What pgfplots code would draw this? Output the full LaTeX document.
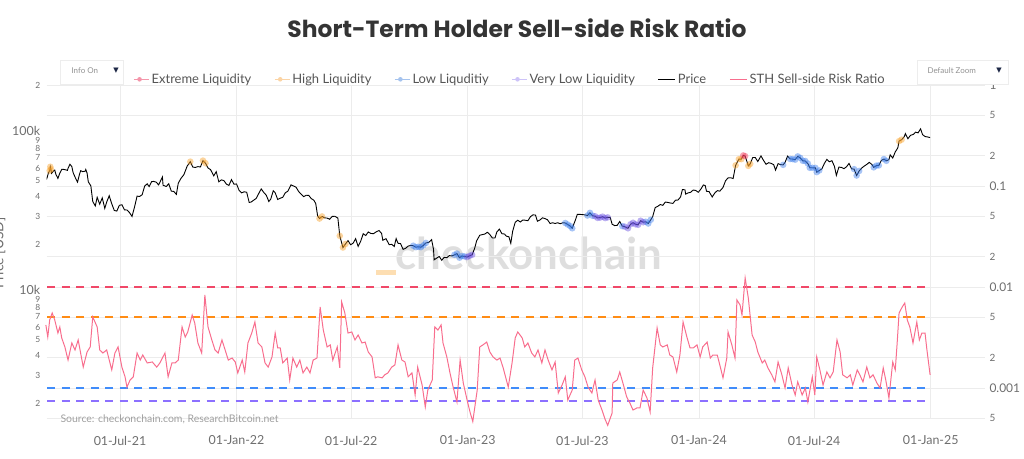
\documentclass[border=0pt]{standalone}
\usepackage{fontspec}
\setmainfont{Lato}
\newfontfamily\titlefont{Poppins}
\newfontfamily\symfont{DejaVu Sans}
\usepackage{pgfplots}
\pgfplotsset{compat=1.18}

\definecolor{pinkline}{RGB}{248,110,142}
\definecolor{reddash}{RGB}{240,72,104}
\definecolor{orangedash}{RGB}{255,140,20}
\definecolor{bluedash}{RGB}{64,140,250}
\definecolor{purpledash}{RGB}{140,112,255}
\definecolor{gridgray}{RGB}{236,236,236}
\definecolor{tickgray}{RGB}{110,110,110}
\definecolor{titlegray}{RGB}{52,52,52}
\definecolor{legtext}{RGB}{85,85,85}
\definecolor{wm}{RGB}{222,222,222}
\definecolor{peach}{RGB}{253,222,178}
\definecolor{navy}{RGB}{30,40,70}
\definecolor{glowred}{RGB}{240,60,90}
\definecolor{gloworange}{RGB}{247,160,40}
\definecolor{glowblue}{RGB}{60,125,235}
\definecolor{glowpurple}{RGB}{105,80,225}
\definecolor{legred}{RGB}{244,150,170}
\definecolor{legorange}{RGB}{251,212,165}
\definecolor{legblue}{RGB}{165,195,238}
\definecolor{legpurple}{RGB}{205,195,248}

\pgfplotstableread{
day price
65 50900
66 52300
68 56000
70 57800
71 61200
72 59000
73 55600
76 57600
78 58300
80 54500
82 52800
83 51700
86 55800
89 58900
91 59000
94 58700
98 58100
99 59800
102 63500
105 61300
107 56200
111 51700
114 49000
117 54800
119 57800
122 57000
126 57400
127 58800
129 55900
131 49200
135 46400
138 37000
142 34700
145 39300
149 35600
153 39000
157 33500
160 36700
164 40200
168 35800
172 32500
176 32200
180 35000
184 35300
188 32800
192 32700
196 31500
200 29800
204 34200
208 40000
212 39800
216 40800
220 46300
224 47800
227 45900
231 49300
234 49500
238 49000
242 47100
248 52700
249 46800
254 46000
258 47800
262 43000
266 42800
270 41000
273 48200
277 51500
282 54700
287 61700
292 65900
296 60900
300 60600
304 61300
308 61000
312 66900
316 64400
320 60100
324 58700
329 53600
333 57000
337 49200
341 50600
345 50100
349 47600
353 46700
357 50800
361 47500
365 47700
369 43500
373 41900
377 42600
381 42300
385 36500
388 36700
392 37700
396 38700
400 41500
404 44400
408 42200
412 40500
416 37000
419 38300
423 43200
426 42000
430 38100
434 38800
438 39300
442 42000
446 42900
451 47100
455 46300
459 45500
463 42800
467 41100
471 39700
475 40500
479 40400
483 38600
487 37700
490 36000
493 30100
496 28900
500 29800
504 29200
508 29100
512 28600
516 29800
520 29900
525 29100
528 22500
533 19000
537 20000
541 21000
545 19800
549 20200
553 21600
557 19300
561 20800
565 23200
569 22600
573 23800
577 23300
581 23200
586 23900
590 24300
594 23300
596 21100
601 21600
606 19800
610 19900
614 19300
617 21600
620 20200
624 20100
628 18500
632 18800
636 19400
640 19600
644 19500
648 19100
652 19200
656 19100
660 19600
664 20300
669 20500
673 21300
676 18500
677 15900
681 16300
685 16700
689 15800
693 16500
697 16400
701 16900
705 16800
709 17100
713 17400
717 16400
721 16800
725 16700
729 16550
733 16850
737 17100
741 18800
744 20900
749 22700
753 22900
757 23100
761 23700
765 22900
769 21800
773 21800
776 23800
780 24800
784 23200
788 23100
791 22400
795 22200
798 20200
801 24100
805 27400
809 28200
813 27500
817 28300
821 28200
825 28000
829 29700
833 30500
837 30400
840 27800
844 28300
848 29200
852 28900
856 28400
860 26900
864 27200
868 26900
872 27200
876 26800
880 27200
884 27100
888 26500
892 25900
895 25100
900 28300
903 30700
907 30700
911 30600
915 30500
919 30200
923 31400
927 30100
931 29900
935 29200
939 29300
943 29700
947 29100
951 29400
955 29400
958 26600
962 26100
966 26200
970 27700
974 25900
978 25700
983 25100
987 26600
991 27200
995 26600
999 26400
1003 28000
1007 27400
1011 27600
1015 26900
1019 28400
1022 29700
1026 33900
1030 34500
1034 35400
1038 35000
1042 36700
1046 36500
1050 36200
1054 36000
1058 37700
1062 37800
1066 39500
1069 44000
1073 43800
1074 41200
1078 41900
1082 42300
1086 43700
1090 43400
1094 42300
1098 44200
1102 47000
1105 46600
1107 42900
1111 42700
1116 39500
1120 41800
1124 43300
1128 43000
1133 45300
1137 49900
1141 52100
1145 52200
1149 51600
1153 62500
1158 68300
1162 68300
1165 72100
1168 71400
1173 62000
1176 63800
1180 70000
1184 69900
1188 66000
1193 71600
1197 67100
1201 63400
1205 64900
1209 64300
1213 63100
1216 58300
1220 64000
1224 63100
1228 62900
1231 65200
1235 71400
1239 68500
1243 68400
1247 67800
1251 71100
1255 69600
1259 66700
1263 66500
1267 64100
1270 60300
1274 60300
1279 60200
1281 56600
1285 58000
1289 59200
1293 64100
1297 68100
1301 65800
1305 66800
1309 61500
1312 54000
1316 60900
1320 60600
1324 59500
1328 61200
1332 64200
1336 59400
1340 59100
1344 53900
1348 57600
1352 60000
1356 61800
1360 63300
1364 65200
1368 63300
1371 60700
1375 62200
1379 62400
1383 67000
1387 68400
1391 66700
1395 67900
1397 72700
1401 69400
1405 75900
1409 80400
1411 88700
1415 90600
1419 94300
1421 98900
1425 91900
1429 96400
1434 98000
1437 101000
1441 100000
1445 106000
1448 97500
1452 94800
1456 94200
1460 93400
}\pricetable

\pgfplotstableread{
day ratio
64 0.00421
67 0.00320
70 0.00471
74 0.00553
78 0.00471
83 0.00350
86 0.00402
89 0.00313
94 0.00255
99 0.00189
105 0.00279
110 0.00238
115 0.00299
123 0.00161
129 0.00227
134 0.00255
138 0.00505
145 0.00402
149 0.00238
154 0.00222
160 0.00238
168 0.00151
173 0.00222
178 0.00255
184 0.00161
189 0.00129
192 0.00102
197 0.00120
202 0.00129
208 0.00222
213 0.00189
217 0.00212
224 0.00177
232 0.00181
239 0.00161
244 0.00177
252 0.00222
257 0.00129
263 0.00177
268 0.00177
273 0.00189
279 0.00402
284 0.00320
288 0.00359
295 0.00528
299 0.00440
304 0.00279
310 0.00222
315 0.00833
320 0.00402
326 0.00299
331 0.00238
336 0.00222
342 0.00299
347 0.00238
352 0.00189
358 0.00198
363 0.00181
367 0.00141
374 0.00189
378 0.00144
383 0.00279
389 0.00350
394 0.00450
399 0.00279
405 0.00255
410 0.00177
415 0.00161
421 0.00203
426 0.00350
430 0.00249
434 0.00249
438 0.00177
445 0.00198
449 0.00120
454 0.00198
460 0.00161
465 0.00189
470 0.00141
476 0.00161
481 0.00141
486 0.00189
492 0.00198
497 0.00634
502 0.00375
508 0.00255
513 0.00267
517 0.00189
524 0.00255
528 0.00158
531 0.00710
536 0.00553
541 0.00350
547 0.00359
552 0.00299
557 0.00335
563 0.00279
568 0.00285
573 0.00227
579 0.00203
584 0.00126
588 0.00129
595 0.00126
599 0.00135
604 0.00141
610 0.00161
615 0.00169
620 0.00267
626 0.00189
631 0.00181
636 0.00129
642 0.00141
647 0.000852
651 0.00161
658 0.00107
663 0.000648
667 0.000955
674 0.00120
678 0.00402
683 0.00375
688 0.00421
691 0.00279
697 0.00203
702 0.00141
707 0.00102
713 0.000727
718 0.00189
723 0.00112
729 0.000760
734 0.000566
738 0.000466
745 0.000955
749 0.00255
754 0.00267
760 0.00285
765 0.00227
770 0.00203
776 0.00189
781 0.00198
786 0.00158
794 0.00102
800 0.00177
805 0.00313
809 0.00359
816 0.00313
820 0.00255
825 0.00279
831 0.00222
836 0.00203
841 0.00238
847 0.00177
852 0.00238
857 0.00189
863 0.00151
868 0.00181
873 0.000892
879 0.00107
884 0.00129
888 0.000760
895 0.000955
899 0.00189
904 0.00198
910 0.00151
915 0.00129
920 0.00102
926 0.000892
931 0.00120
936 0.000760
942 0.000605
947 0.000488
951 0.000427
958 0.000566
959 0.00112
966 0.00120
970 0.00144
975 0.00112
981 0.000814
986 0.000710
991 0.000605
997 0.000634
1002 0.000634
1007 0.000955
1013 0.000796
1018 0.000579
1022 0.00158
1029 0.00393
1034 0.00267
1038 0.00255
1045 0.00267
1049 0.00212
1054 0.00203
1060 0.00144
1065 0.00212
1070 0.00450
1076 0.00320
1081 0.00249
1086 0.00249
1092 0.00267
1097 0.00203
1101 0.00255
1108 0.00285
1113 0.00198
1117 0.00212
1124 0.00212
1128 0.00169
1133 0.00126
1139 0.00198
1141 0.00359
1147 0.00267
1152 0.00198
1155 0.00744
1160 0.00663
1163 0.00528
1168 0.01228
1173 0.00778
1179 0.00335
1184 0.00285
1188 0.00227
1195 0.00177
1199 0.00189
1204 0.00158
1210 0.00135
1215 0.00115
1220 0.00181
1226 0.00135
1231 0.00100
1236 0.00158
1242 0.00107
1247 0.000852
1251 0.00115
1258 0.000852
1263 0.00100
1267 0.000727
1274 0.00129
1278 0.000852
1281 0.00203
1286 0.00151
1291 0.00107
1297 0.00144
1302 0.00126
1307 0.00144
1313 0.00299
1318 0.00227
1322 0.00135
1329 0.00126
1334 0.00135
1338 0.00107
1345 0.00151
1349 0.00135
1354 0.00115
1360 0.00161
1365 0.00126
1370 0.00135
1376 0.00112
1381 0.00100
1386 0.00158
1390 0.00120
1395 0.000796
1401 0.00181
1405 0.00151
1408 0.00279
1411 0.00553
1416 0.00634
1420 0.00694
1424 0.00471
1428 0.00402
1433 0.00279
1439 0.00450
1443 0.00299
1447 0.00350
1452 0.00350
1455 0.00238
1460 0.00135
}\ratiotable

\pgfplotsset{
  glow/.style={forget plot, only marks, mark=*, mark size=3.3bp, color=#1,
    mark options={draw opacity=0, fill=#1, fill opacity=0.45}},
  legdot/.style={only marks, mark=*, mark size=2.3bp, color=#1,
    mark options={draw opacity=0, fill=#1, fill opacity=1},
    legend image code/.code={\path (0cm,0cm) -- (0.55cm,0cm);\draw[mark repeat=2,mark phase=2,##1,draw opacity=0] plot coordinates {(0cm,0cm) (0.2cm,0cm) (0.55cm,0cm)};}},
}

\begin{document}
\begin{tikzpicture}[x=1bp,y=1bp]
\useasboundingbox (0,0) rectangle (1024,459);

% watermark
\node[text=wm, font=\fontsize{44}{44}\selectfont\bfseries] at (529,206) {checkonchain};
\fill[peach] (376,184) rectangle (396,188.5);

% ---------- ratio axis (right) ----------
\begin{axis}[
  at={(46.7bp,40.6bp)}, anchor=south west, scale only axis,
  width=938.3bp, height=333.4bp,
  xmin=65.3, xmax=1546.7,
  ymode=log, ymin=0.0005, ymax=1,
  axis x line*=bottom, axis y line*=right,
  axis line style={draw=none},
  major tick length=0pt, minor tick length=0pt,
  xtick={181,365,546,730,911,1095,1277,1461},
  xticklabels={01-Jul-21,01-Jan-22,01-Jul-22,01-Jan-23,01-Jul-23,01-Jan-24,01-Jul-24,01-Jan-25},
  xticklabel style={font=\fontsize{12.5}{14}\selectfont, text=tickgray, yshift=-14bp},
  ytick={0.0005,0.001,0.002,0.005,0.01,0.02,0.05,0.1,0.2,0.5,1},
  yticklabels={5,{\fontsize{12}{12}\selectfont 0.001},2,5,{\fontsize{12}{12}\selectfont 0.01},2,5,{\fontsize{12}{12}\selectfont 0.1},2,5,{\fontsize{12}{12}\selectfont 1}},
  yticklabel style={font=\fontsize{10}{10}\selectfont, text=tickgray, xshift=1bp},
  xmajorgrids, ymajorgrids,
  grid style={gridgray, line width=0.8bp},
  clip=false,
]
\addplot[reddash, line width=1.8bp, dash pattern=on 8bp off 6.5bp] coordinates {(66,0.01) (1460,0.01)};
\addplot[orangedash, line width=1.8bp, dash pattern=on 8bp off 6.5bp] coordinates {(66,0.005) (1460,0.005)};
\addplot[bluedash, line width=1.8bp, dash pattern=on 8bp off 6.5bp] coordinates {(66,0.001) (1460,0.001)};
\addplot[purpledash, line width=1.8bp, dash pattern=on 8bp off 6.5bp] coordinates {(66,0.00075) (1460,0.00075)};
\addplot[pinkline, line width=1bp] table[x=day, y=ratio] {\ratiotable};
\end{axis}

% ---------- price axis (left) ----------
\begin{axis}[
  at={(46.7bp,40.6bp)}, anchor=south west, scale only axis,
  width=938.3bp, height=333.4bp,
  xmin=65.3, xmax=1546.7,
  ymode=log, ymin=1600, ymax=200000,
  axis x line*=bottom, axis y line*=left,
  axis line style={draw=none},
  major tick length=0pt, minor tick length=0pt,
  xtick=\empty,
  ytick={2000,3000,4000,5000,6000,7000,8000,9000,10000,20000,30000,40000,50000,60000,70000,80000,90000,100000,200000},
  yticklabels={2,3,4,5,6,7,8,9,{\fontsize{12.5}{12}\selectfont\raisebox{3bp}{10k}},2,3,4,5,6,7,8,9,{\fontsize{12.5}{12}\selectfont\raisebox{3.5bp}{100k}},2},
  yticklabel style={font=\fontsize{8.5}{9}\selectfont, text=tickgray, xshift=-3bp},
  legend columns=6,
  legend cell align=left,
  legend style={at={(0.494,1.017)}, anchor=center, draw=none, fill=none,
    font=\fontsize{13}{15}\selectfont, text=legtext,
    /tikz/every even column/.append style={column sep=21bp},
    /tikz/column 10/.append style={column sep=8bp}},
]
\addlegendimage{legdot=legred}
\addlegendentry{Extreme Liquidity}
\addlegendimage{legdot=legorange}
\addlegendentry{High Liquidity}
\addlegendimage{legdot=legblue}
\addlegendentry{Low Liquditiy}
\addlegendimage{legdot=legpurple}
\addlegendentry{Very Low Liquidity}
\addlegendimage{color=black, line width=1bp}
\addlegendentry{Price}
\addlegendimage{color=pinkline, draw=pinkline, line width=1.4bp}
\addlegendentry{STH Sell-side Risk Ratio}

% regime glows
\addplot[glow=gloworange] coordinates {
(70,57800) (71,61200) (72,59000)
(292,65900) (312,66900) (316,64400)
(496,28900) (500,29800)
(528,22500) (533,19000) (537,20000)
(1153,62500) (1158,68300) (1162,68300) (1173,62000) (1176,63800)
(1411,88700) (1415,90600)
};
\addplot[glow=glowred] coordinates {
(1165,72100) (1168,71400)
};
\addplot[glow=glowblue] coordinates {
(644,19500) (648,19100) (652,19200) (656,19100) (660,19600) (664,20300)
(709,17100) (713,17400) (717,16400) (721,16800) (725,16700)
(884,27100) (888,26500) (892,25900) (895,25100)
(919,30200) (923,31400) (927,30100)
(974,25900)
(1011,27600) (1015,26900) (1019,28400)
(1228,62900) (1239,68500) (1243,68400) (1247,67800) (1251,71100) (1255,69600) (1259,66700) (1263,66500) (1267,64100) (1270,60300) (1274,60300) (1279,60200) (1281,56600) (1285,58000)
(1340,59100) (1344,53900) (1348,57600)
(1371,60700) (1375,62200) (1379,62400) (1387,68400) (1391,66700)
};
\addplot[glow=glowpurple] coordinates {
(729,16550) (733,16850) (737,17100)
(931,29900) (935,29200) (939,29300) (943,29700) (947,29100) (951,29400)
(978,25700) (983,25100) (987,26600) (991,27200) (995,26600) (999,26400) (1003,28000) (1007,27400)
};
\addplot[forget plot, black, line width=0.9bp] table[x=day, y=price] {\pricetable};
\end{axis}

% title
\node[font=\titlefont\bfseries\fontsize{23.5}{28}\selectfont, text=titlegray] at (517,431) {Short-Term Holder Sell-side Risk Ratio};

% buttons
\draw[draw=black!7, fill=white, line width=0.6bp] (60,375) rectangle (123,399);
\node[anchor=west, font=\fontsize{8}{9}\selectfont, text=gray!85] at (68,388) {Info On};
\node[font=\symfont\fontsize{7}{8}\selectfont, text=navy] at (116,388) {▼};
\draw[draw=black!7, fill=white, line width=0.6bp] (917,375) rectangle (1008,399);
\node[anchor=west, font=\fontsize{8}{9}\selectfont, text=gray!85] at (924,388) {Default Zoom};
\node[font=\symfont\fontsize{7}{8}\selectfont, text=navy] at (999,388) {▼};

% source
\node[anchor=west, font=\fontsize{10.5}{12}\selectfont, text=gray!75] at (57,40) {Source: checkonchain.com, ResearchBitcoin.net};

% y label (clipped at the left edge)
\node[rotate=90, font=\fontsize{14}{16}\selectfont, text=tickgray] at (-1,206) {Price [USD]};
\end{tikzpicture}
\end{document}
